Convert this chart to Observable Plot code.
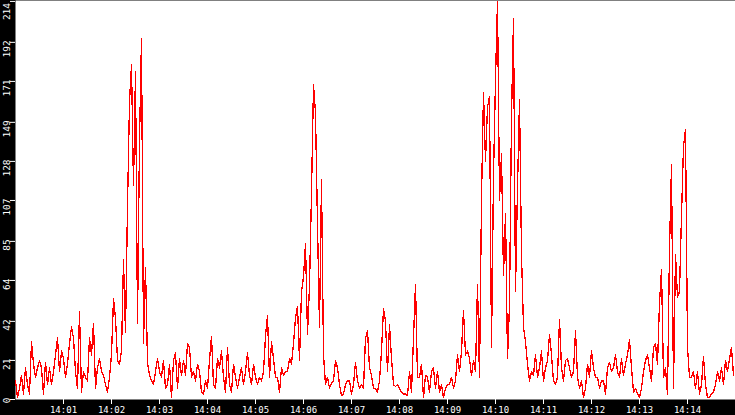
<!DOCTYPE html>
<html><head><meta charset="utf-8">
<script src="https://cdn.jsdelivr.net/npm/d3@7"></script>
<script src="https://cdn.jsdelivr.net/npm/@observablehq/plot@0.6"></script>
<style>
html,body{margin:0;padding:0;background:#000;}
svg{display:block;}
</style></head><body>
<div id="chart"></div>
<script>
// time range and sampling
const startTime = "14:00:00";
const endTime = "14:15:00";
const stepSeconds = 2.5;

// series values, in consecutive 2.5-minute segments
const seg1 = [10,1,6,13,3,17,8,3,31,19,
  12,17,21,17,3,20,8,17,8,15,
  24,33,15,26,22,12,19,30,39,33,
  15,6,47,4,15,12,10,33,24,41,
  6,17,22,15,13,8,4,12,24,54,
  44,21,19,26,75,36,104,160,180,115];
const seg2 = [176,41,139,194,30,71,20,13,10,8,
  15,22,15,12,21,6,8,19,1,21,
  25,6,22,13,21,13,30,28,12,15,
  10,19,15,4,3,10,6,21,34,8,
  6,22,17,26,12,4,28,8,4,19,
  12,6,12,17,8,15,25,13,8,19];
const seg3 = [12,8,12,10,15,34,45,12,31,22,
  12,12,4,17,13,15,15,22,19,30,
  44,50,21,58,66,84,35,61,111,169,
  154,94,39,118,24,8,12,6,9,10,
  21,17,8,2,3,8,10,10,3,8,
  20,10,6,8,6,33,37,17,13,6];
const seg4 = [6,4,10,26,49,42,15,40,22,8,
  7,8,6,4,3,3,2,15,4,33,
  62,12,12,19,1,13,12,4,15,17,
  6,15,4,8,1,6,8,8,12,6,
  10,24,15,26,48,24,26,22,13,21,
  15,62,12,108,165,128,157,163,28,120];
const seg5 = [172,214,107,132,67,100,22,51,152,205,
  58,114,161,78,39,31,19,10,15,13,
  24,12,17,26,10,17,21,35,24,10,
  8,12,43,17,10,21,22,17,12,15,
  37,12,6,10,1,6,19,12,26,17,
  12,12,6,10,10,3,17,20,15,17];
const seg6 = [24,15,12,22,13,19,24,32,17,4,
  6,3,1,6,15,21,24,17,10,28,
  30,19,52,70,12,17,3,81,126,6,
  78,55,58,99,136,145,28,12,12,15,
  6,15,3,8,23,8,1,1,3,4,
  8,15,10,17,8,21,15,22,28,13];

// tick labels
const yTicks = [0,21,42,64,85,107,128,149,171,192,214];
const xTickLabels = ["14:01","14:02","14:03","14:04","14:05","14:06","14:07",
  "14:08","14:09","14:10","14:11","14:12","14:13","14:14"];

function at(hms) {
  const [h, m, s = 0] = hms.split(":").map(Number);
  return new Date(2024, 0, 1, h, m, s);
}
const t0 = at(startTime), t1 = at(endTime);
const values = [...seg1, ...seg2, ...seg3, ...seg4, ...seg5, ...seg6];
const data = values.map((v, i) => ({time: new Date(t0.getTime() + i * stepSeconds * 1000), value: v}));
const xTickDates = xTickLabels.map(at);
const yMax = yTicks[yTicks.length - 1];

const chart = Plot.plot({
  width: 735,
  height: 415,
  marginLeft: 15,
  marginRight: 0,
  marginTop: 0,
  marginBottom: 16,
  style: {background: "#000", color: "#fff", fontFamily: "DejaVu Sans Mono", fontSize: "9px", overflow: "visible"},
  x: {type: "time", domain: [t0, t1]},
  y: {domain: [0, 214.5]},
  marks: [
    Plot.frame({fill: "#fff", stroke: "none"}),
    Plot.line(data, {x: "time", y: "value", stroke: "#ff0000", strokeWidth: 1.3, shapeRendering: "crispEdges"}),
    Plot.axisX({ticks: xTickDates, tickSize: 5, tickPadding: 2, stroke: "#fff", fill: "#fff", fontSize: 9,
      tickFormat: d => xTickLabels[xTickDates.findIndex(t => +t === +d)], label: null}),
    Plot.axisY({ticks: yTicks, tickSize: 5, stroke: "#fff", tickFormat: () => "", label: null}),
    Plot.text(yTicks.filter(d => d < yMax), {y: d => d, text: d => String(d), frameAnchor: "left", rotate: -90,
      textAnchor: "end", dx: -9, dy: -2, fill: "#fff", fontSize: 9.5}),
    Plot.text(yTicks.filter(d => d === yMax), {y: d => d, text: d => String(d), frameAnchor: "left", rotate: -90,
      textAnchor: "end", dx: -9, dy: 1.5, fill: "#fff", fontSize: 9.5})
  ]
});
document.getElementById("chart").appendChild(chart);
</script>
</body></html>
